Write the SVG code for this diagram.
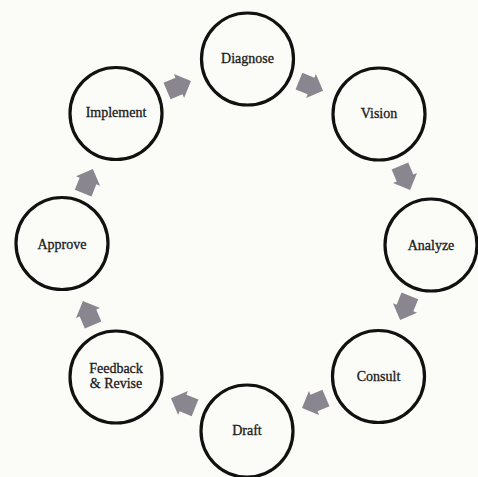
<svg xmlns="http://www.w3.org/2000/svg" width="478" height="477" viewBox="0 0 478 477">
<defs>
<style>
.node circle{fill:#fbfbf8;stroke:#111;stroke-width:3.2}
.node text{font-family:"Liberation Serif","Times New Roman",serif;font-size:14px;fill:#1a1a1a;text-anchor:middle;dominant-baseline:central;stroke:#1a1a1a;stroke-width:0.3}
.arr{fill:#8a8690}
</style>
<path id="ar" d="M-13,-9 L0,-9 L0,-13 L13,0 L0,13 L0,9 L-13,9 Z"/>
</defs>
<rect width="478" height="477" fill="#fbfbf7"/>
<g id="connectors" class="arr">
<use href="#ar" transform="translate(179,86) rotate(-23)"/>
<use href="#ar" transform="translate(311,86) rotate(22)"/>
<use href="#ar" transform="translate(405,178) rotate(67)"/>
<use href="#ar" transform="translate(405,308) rotate(112)"/>
<use href="#ar" transform="translate(314,403) rotate(157)"/>
<use href="#ar" transform="translate(183,403) rotate(202)"/>
<use href="#ar" transform="translate(88,313) rotate(247)"/>
<use href="#ar" transform="translate(88,181) rotate(292)"/>
</g>
<g id="diagnose" class="node"><circle cx="247.5" cy="59" r="46"/><text x="247.5" y="58">Diagnose</text></g>
<g id="vision" class="node"><circle cx="379" cy="114" r="46"/><text x="379" y="113">Vision</text></g>
<g id="analyze" class="node"><circle cx="431" cy="245" r="46"/><text x="431" y="245">Analyze</text></g>
<g id="consult" class="node"><circle cx="378.5" cy="376.5" r="46"/><text x="378.5" y="376">Consult</text></g>
<g id="draft" class="node"><circle cx="247" cy="431" r="46"/><text x="247" y="430">Draft</text></g>
<g id="feedback" class="node"><circle cx="116" cy="377" r="46"/><text x="116" y="368">Feedback</text><text x="116" y="383">&amp; Revise</text></g>
<g id="approve" class="node"><circle cx="62" cy="243.5" r="46"/><text x="62" y="244">Approve</text></g>
<g id="implement" class="node"><circle cx="116" cy="113.5" r="46"/><text x="116" y="112">Implement</text></g>
</svg>
